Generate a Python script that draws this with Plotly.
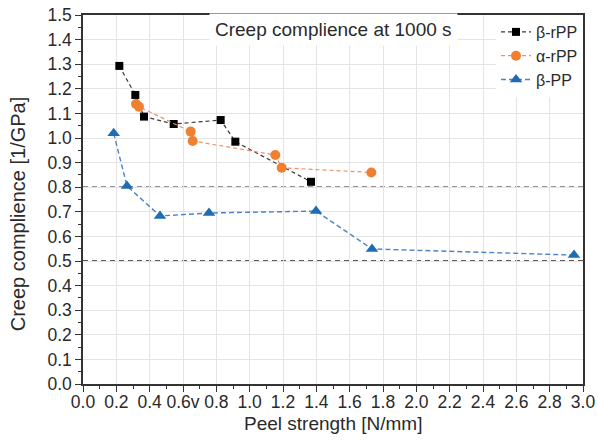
import plotly.graph_objects as go

beta_rpp_x = [0.218, 0.314, 0.366, 0.544, 0.826, 0.914, 1.368]
beta_rpp_y = [1.293, 1.175, 1.087, 1.057, 1.073, 0.985, 0.822]

alpha_rpp_x = [0.318, 0.336, 0.646, 0.658, 1.154, 1.192, 1.73]
alpha_rpp_y = [1.138, 1.127, 1.026, 0.988, 0.931, 0.879, 0.86]

beta_pp_x = [0.184, 0.264, 0.462, 0.756, 1.398, 1.734, 2.946]
beta_pp_y = [1.019, 0.805, 0.683, 0.695, 0.703, 0.549, 0.524]

ref_levels = [0.8, 0.5]

x_ticks = [0.0, 0.2, 0.4, 0.6, 0.8, 1.0, 1.2, 1.4, 1.6, 1.8, 2.0, 2.2, 2.4, 2.6, 2.8, 3.0]
x_labels = ["0.0", "0.2", "0.4", "0.6v", "0.8", "1.0", "1.2", "1.4", "1.6", "1.8",
            "2.0", "2.2", "2.4", "2.6", "2.8", "3.0"]

font = "Liberation Sans, Arial, sans-serif"
txt = "#2a2a2a"

fig = go.Figure()
fig.add_trace(go.Scatter(x=beta_rpp_x, y=beta_rpp_y, mode="lines+markers", name="β-rPP",
                         line=dict(color="#3a3a3a", dash="4px,3px", width=1.2),
                         marker=dict(symbol="square", size=8, color="#000000")))
fig.add_trace(go.Scatter(x=alpha_rpp_x, y=alpha_rpp_y, mode="lines+markers", name="α-rPP",
                         line=dict(color="#f0906a", dash="4px,3px", width=1.2),
                         marker=dict(symbol="circle", size=10, color="#f07f30")))
fig.add_trace(go.Scatter(x=beta_pp_x, y=beta_pp_y, mode="lines+markers", name="β-PP",
                         line=dict(color="#4a84c4", dash="5px,3px", width=1.4),
                         marker=dict(symbol="triangle-up", size=11, color="#1d6cb5")))

for lv in ref_levels:
    fig.add_shape(type="line", xref="paper", x0=0, x1=1, yref="y", y0=lv, y1=lv,
                  line=dict(color="#262626", dash="5px,4px", width=1.4), layer="below")

fig.add_annotation(text="Creep complience at 1000 s", xref="x", yref="y", x=1.5, y=1.44,
                   showarrow=False, font=dict(family=font, size=19, color=txt),
                   bgcolor="white", borderpad=5)

fig.add_annotation(text="Creep complience [1/GPa]", xref="paper", yref="paper",
                   x=-0.13, y=0.46, textangle=-90, showarrow=False,
                   xanchor="center", yanchor="middle",
                   font=dict(family=font, size=20, color=txt))

fig.add_annotation(text="Peel strength [N/mm]", xref="paper", yref="paper",
                   x=0.5, y=-0.108, showarrow=False,
                   xanchor="center", yanchor="middle",
                   font=dict(family=font, size=19, color=txt))

fig.update_layout(
    width=598, height=441,
    margin=dict(l=83, r=15, t=15, b=57),
    paper_bgcolor="white", plot_bgcolor="white",
    font=dict(family=font, size=17, color=txt),
    showlegend=True,
    legend=dict(x=1, y=1, xanchor="right", yanchor="top", bgcolor="white",
                font=dict(family=font, size=16, color=txt),
                tracegroupgap=0, itemwidth=30, borderwidth=0),
)
fig.update_xaxes(range=[0, 3.0], tickvals=x_ticks, ticktext=x_labels, automargin=False,
                 showgrid=True, gridcolor="#e4e4e4", gridwidth=1,
                 showline=True, linecolor="#333333", linewidth=1.5, mirror=True,
                 ticks="outside", ticklen=6, tickcolor="#333333", ticklabelstandoff=-5,
                 minor=dict(ticks="outside", ticklen=3, dtick=0.1, tickcolor="#333333", showgrid=False),
                 zeroline=False,
                 tickfont=dict(family=font, size=17.5, color=txt))
fig.update_yaxes(range=[0, 1.5], dtick=0.1, tickformat=".1f", automargin=False,
                 showgrid=True, gridcolor="#e4e4e4", gridwidth=1,
                 showline=True, linecolor="#333333", linewidth=1.5, mirror=True,
                 ticks="outside", ticklen=6, tickcolor="#333333",
                 minor=dict(ticks="outside", ticklen=3, dtick=0.05, tickcolor="#333333", showgrid=False),
                 zeroline=False,
                 tickfont=dict(family=font, size=17.5, color=txt))

fig.write_html("out.html")
